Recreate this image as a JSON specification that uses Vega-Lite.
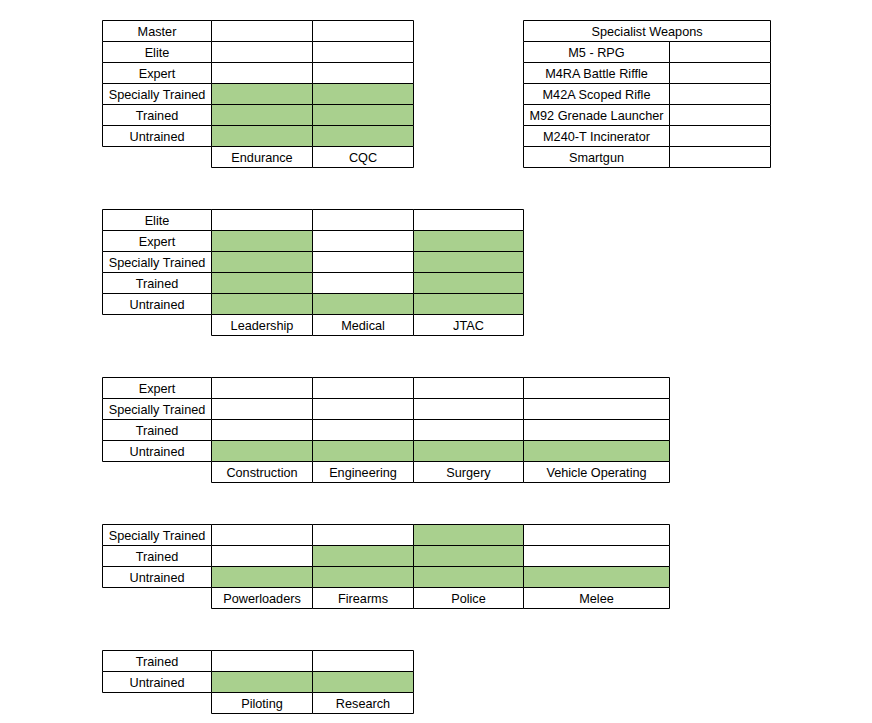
{
  "$schema": "https://vega.github.io/schema/vega-lite/v6.json",
  "width": 668,
  "height": 693,
  "autosize": {"type": "none"},
  "padding": {"left": 102, "top": 20, "right": 102, "bottom": 10},
  "background": "#ffffff",
  "config": {"view": {"stroke": null}},
  "data": {"values": [
    {"r": 0, "c": 0, "c2": 1, "m": 0.5, "t": "Master", "g": false},
    {"r": 0, "c": 1, "c2": 2, "m": 1.5, "t": "", "g": false},
    {"r": 0, "c": 2, "c2": 3, "m": 2.5, "t": "", "g": false},
    {"r": 1, "c": 0, "c2": 1, "m": 0.5, "t": "Elite", "g": false},
    {"r": 1, "c": 1, "c2": 2, "m": 1.5, "t": "", "g": false},
    {"r": 1, "c": 2, "c2": 3, "m": 2.5, "t": "", "g": false},
    {"r": 2, "c": 0, "c2": 1, "m": 0.5, "t": "Expert", "g": false},
    {"r": 2, "c": 1, "c2": 2, "m": 1.5, "t": "", "g": false},
    {"r": 2, "c": 2, "c2": 3, "m": 2.5, "t": "", "g": false},
    {"r": 3, "c": 0, "c2": 1, "m": 0.5, "t": "Specially Trained", "g": false},
    {"r": 3, "c": 1, "c2": 2, "m": 1.5, "t": "", "g": true},
    {"r": 3, "c": 2, "c2": 3, "m": 2.5, "t": "", "g": true},
    {"r": 4, "c": 0, "c2": 1, "m": 0.5, "t": "Trained", "g": false},
    {"r": 4, "c": 1, "c2": 2, "m": 1.5, "t": "", "g": true},
    {"r": 4, "c": 2, "c2": 3, "m": 2.5, "t": "", "g": true},
    {"r": 5, "c": 0, "c2": 1, "m": 0.5, "t": "Untrained", "g": false},
    {"r": 5, "c": 1, "c2": 2, "m": 1.5, "t": "", "g": true},
    {"r": 5, "c": 2, "c2": 3, "m": 2.5, "t": "", "g": true},
    {"r": 6, "c": 1, "c2": 2, "m": 1.5, "t": "Endurance", "g": false},
    {"r": 6, "c": 2, "c2": 3, "m": 2.5, "t": "CQC", "g": false},

    {"r": 0, "c": 4, "c2": 6, "m": 4.846, "t": "Specialist Weapons", "g": false},
    {"r": 1, "c": 4, "c2": 5, "m": 4.5, "t": "M5 - RPG", "g": false},
    {"r": 1, "c": 5, "c2": 6, "m": 5.5, "t": "", "g": false},
    {"r": 2, "c": 4, "c2": 5, "m": 4.5, "t": "M4RA Battle Riffle", "g": false},
    {"r": 2, "c": 5, "c2": 6, "m": 5.5, "t": "", "g": false},
    {"r": 3, "c": 4, "c2": 5, "m": 4.5, "t": "M42A Scoped Rifle", "g": false},
    {"r": 3, "c": 5, "c2": 6, "m": 5.5, "t": "", "g": false},
    {"r": 4, "c": 4, "c2": 5, "m": 4.5, "t": "M92 Grenade Launcher", "g": false},
    {"r": 4, "c": 5, "c2": 6, "m": 5.5, "t": "", "g": false},
    {"r": 5, "c": 4, "c2": 5, "m": 4.5, "t": "M240-T Incinerator", "g": false},
    {"r": 5, "c": 5, "c2": 6, "m": 5.5, "t": "", "g": false},
    {"r": 6, "c": 4, "c2": 5, "m": 4.5, "t": "Smartgun", "g": false},
    {"r": 6, "c": 5, "c2": 6, "m": 5.5, "t": "", "g": false},

    {"r": 9, "c": 0, "c2": 1, "m": 0.5, "t": "Elite", "g": false},
    {"r": 9, "c": 1, "c2": 2, "m": 1.5, "t": "", "g": false},
    {"r": 9, "c": 2, "c2": 3, "m": 2.5, "t": "", "g": false},
    {"r": 9, "c": 3, "c2": 4, "m": 3.5, "t": "", "g": false},
    {"r": 10, "c": 0, "c2": 1, "m": 0.5, "t": "Expert", "g": false},
    {"r": 10, "c": 1, "c2": 2, "m": 1.5, "t": "", "g": true},
    {"r": 10, "c": 2, "c2": 3, "m": 2.5, "t": "", "g": false},
    {"r": 10, "c": 3, "c2": 4, "m": 3.5, "t": "", "g": true},
    {"r": 11, "c": 0, "c2": 1, "m": 0.5, "t": "Specially Trained", "g": false},
    {"r": 11, "c": 1, "c2": 2, "m": 1.5, "t": "", "g": true},
    {"r": 11, "c": 2, "c2": 3, "m": 2.5, "t": "", "g": false},
    {"r": 11, "c": 3, "c2": 4, "m": 3.5, "t": "", "g": true},
    {"r": 12, "c": 0, "c2": 1, "m": 0.5, "t": "Trained", "g": false},
    {"r": 12, "c": 1, "c2": 2, "m": 1.5, "t": "", "g": true},
    {"r": 12, "c": 2, "c2": 3, "m": 2.5, "t": "", "g": false},
    {"r": 12, "c": 3, "c2": 4, "m": 3.5, "t": "", "g": true},
    {"r": 13, "c": 0, "c2": 1, "m": 0.5, "t": "Untrained", "g": false},
    {"r": 13, "c": 1, "c2": 2, "m": 1.5, "t": "", "g": true},
    {"r": 13, "c": 2, "c2": 3, "m": 2.5, "t": "", "g": true},
    {"r": 13, "c": 3, "c2": 4, "m": 3.5, "t": "", "g": true},
    {"r": 14, "c": 1, "c2": 2, "m": 1.5, "t": "Leadership", "g": false},
    {"r": 14, "c": 2, "c2": 3, "m": 2.5, "t": "Medical", "g": false},
    {"r": 14, "c": 3, "c2": 4, "m": 3.5, "t": "JTAC", "g": false},

    {"r": 17, "c": 0, "c2": 1, "m": 0.5, "t": "Expert", "g": false},
    {"r": 17, "c": 1, "c2": 2, "m": 1.5, "t": "", "g": false},
    {"r": 17, "c": 2, "c2": 3, "m": 2.5, "t": "", "g": false},
    {"r": 17, "c": 3, "c2": 4, "m": 3.5, "t": "", "g": false},
    {"r": 17, "c": 4, "c2": 5, "m": 4.5, "t": "", "g": false},
    {"r": 18, "c": 0, "c2": 1, "m": 0.5, "t": "Specially Trained", "g": false},
    {"r": 18, "c": 1, "c2": 2, "m": 1.5, "t": "", "g": false},
    {"r": 18, "c": 2, "c2": 3, "m": 2.5, "t": "", "g": false},
    {"r": 18, "c": 3, "c2": 4, "m": 3.5, "t": "", "g": false},
    {"r": 18, "c": 4, "c2": 5, "m": 4.5, "t": "", "g": false},
    {"r": 19, "c": 0, "c2": 1, "m": 0.5, "t": "Trained", "g": false},
    {"r": 19, "c": 1, "c2": 2, "m": 1.5, "t": "", "g": false},
    {"r": 19, "c": 2, "c2": 3, "m": 2.5, "t": "", "g": false},
    {"r": 19, "c": 3, "c2": 4, "m": 3.5, "t": "", "g": false},
    {"r": 19, "c": 4, "c2": 5, "m": 4.5, "t": "", "g": false},
    {"r": 20, "c": 0, "c2": 1, "m": 0.5, "t": "Untrained", "g": false},
    {"r": 20, "c": 1, "c2": 2, "m": 1.5, "t": "", "g": true},
    {"r": 20, "c": 2, "c2": 3, "m": 2.5, "t": "", "g": true},
    {"r": 20, "c": 3, "c2": 4, "m": 3.5, "t": "", "g": true},
    {"r": 20, "c": 4, "c2": 5, "m": 4.5, "t": "", "g": true},
    {"r": 21, "c": 1, "c2": 2, "m": 1.5, "t": "Construction", "g": false},
    {"r": 21, "c": 2, "c2": 3, "m": 2.5, "t": "Engineering", "g": false},
    {"r": 21, "c": 3, "c2": 4, "m": 3.5, "t": "Surgery", "g": false},
    {"r": 21, "c": 4, "c2": 5, "m": 4.5, "t": "Vehicle Operating", "g": false},

    {"r": 24, "c": 0, "c2": 1, "m": 0.5, "t": "Specially Trained", "g": false},
    {"r": 24, "c": 1, "c2": 2, "m": 1.5, "t": "", "g": false},
    {"r": 24, "c": 2, "c2": 3, "m": 2.5, "t": "", "g": false},
    {"r": 24, "c": 3, "c2": 4, "m": 3.5, "t": "", "g": true},
    {"r": 24, "c": 4, "c2": 5, "m": 4.5, "t": "", "g": false},
    {"r": 25, "c": 0, "c2": 1, "m": 0.5, "t": "Trained", "g": false},
    {"r": 25, "c": 1, "c2": 2, "m": 1.5, "t": "", "g": false},
    {"r": 25, "c": 2, "c2": 3, "m": 2.5, "t": "", "g": true},
    {"r": 25, "c": 3, "c2": 4, "m": 3.5, "t": "", "g": true},
    {"r": 25, "c": 4, "c2": 5, "m": 4.5, "t": "", "g": false},
    {"r": 26, "c": 0, "c2": 1, "m": 0.5, "t": "Untrained", "g": false},
    {"r": 26, "c": 1, "c2": 2, "m": 1.5, "t": "", "g": true},
    {"r": 26, "c": 2, "c2": 3, "m": 2.5, "t": "", "g": true},
    {"r": 26, "c": 3, "c2": 4, "m": 3.5, "t": "", "g": true},
    {"r": 26, "c": 4, "c2": 5, "m": 4.5, "t": "", "g": true},
    {"r": 27, "c": 1, "c2": 2, "m": 1.5, "t": "Powerloaders", "g": false},
    {"r": 27, "c": 2, "c2": 3, "m": 2.5, "t": "Firearms", "g": false},
    {"r": 27, "c": 3, "c2": 4, "m": 3.5, "t": "Police", "g": false},
    {"r": 27, "c": 4, "c2": 5, "m": 4.5, "t": "Melee", "g": false},

    {"r": 30, "c": 0, "c2": 1, "m": 0.5, "t": "Trained", "g": false},
    {"r": 30, "c": 1, "c2": 2, "m": 1.5, "t": "", "g": false},
    {"r": 30, "c": 2, "c2": 3, "m": 2.5, "t": "", "g": false},
    {"r": 31, "c": 0, "c2": 1, "m": 0.5, "t": "Untrained", "g": false},
    {"r": 31, "c": 1, "c2": 2, "m": 1.5, "t": "", "g": true},
    {"r": 31, "c": 2, "c2": 3, "m": 2.5, "t": "", "g": true},
    {"r": 32, "c": 1, "c2": 2, "m": 1.5, "t": "Piloting", "g": false},
    {"r": 32, "c": 2, "c2": 3, "m": 2.5, "t": "Research", "g": false}
  ]},
  "encoding": {
    "y": {"field": "r", "type": "ordinal", "axis": null,
      "scale": {"domain": [0,1,2,3,4,5,6,7,8,9,10,11,12,13,14,15,16,17,18,19,20,21,22,23,24,25,26,27,28,29,30,31,32], "range": [0.5, 693.5], "paddingInner": 0, "paddingOuter": 0}}
  },
  "layer": [
    {
      "mark": {"type": "rect", "stroke": "#000000", "strokeWidth": 1},
      "encoding": {
        "x": {"field": "c", "type": "quantitative", "axis": null,
          "scale": {"domain": [0, 1, 2, 3, 4, 5, 6], "range": [0.5, 109.5, 210.5, 311.5, 421.5, 567.5, 668.5], "zero": false, "nice": false}},
        "x2": {"field": "c2"},
        "fill": {"condition": {"test": "datum.g", "value": "#a9d08e"}, "value": "#ffffff"}
      }
    },
    {
      "transform": [{"filter": "datum.t != ''"}],
      "mark": {"type": "text", "font": "Liberation Sans", "fontSize": 12.7, "color": "#000000", "align": "center", "baseline": "middle", "dy": 1},
      "encoding": {
        "x": {"field": "m", "type": "quantitative", "axis": null},
        "text": {"field": "t", "type": "nominal"}
      }
    }
  ]
}
